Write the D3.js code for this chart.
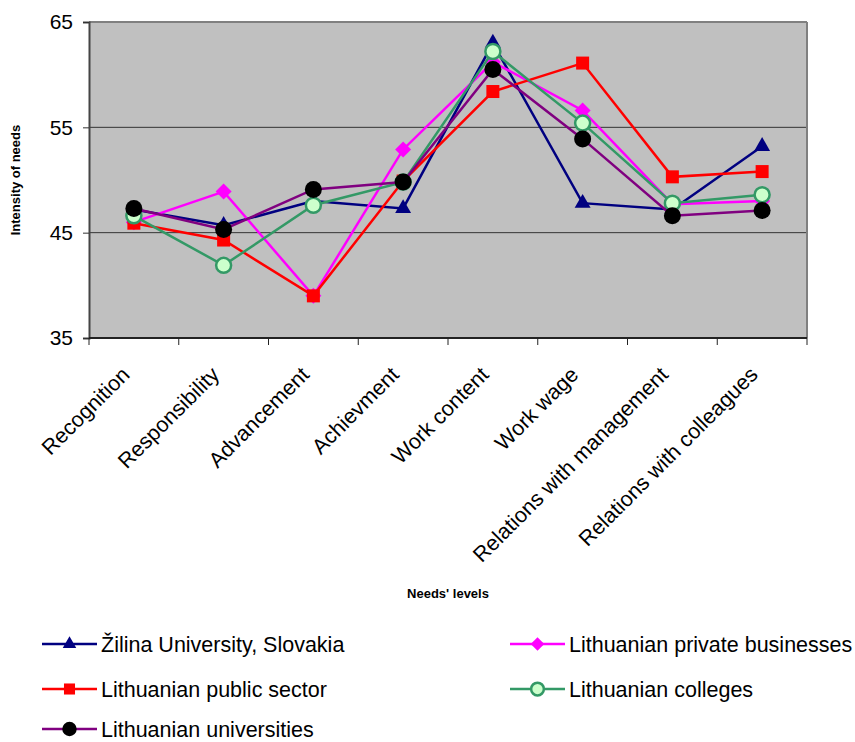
<!DOCTYPE html>
<html><head><meta charset="utf-8">
<script src="https://cdn.jsdelivr.net/npm/d3@7"></script>
<style>body{margin:0;background:#fff}svg{display:block;font-family:"Liberation Sans",Arial,sans-serif}</style>
</head><body><svg id="c" width="855" height="742"></svg>
<script>
const categories = ["Recognition","Responsibility","Advancement","Achievment","Work content","Work wage","Relations with management","Relations with colleagues"];
const zilina   = [47.2, 45.7, 48.0, 47.3, 63.0, 47.8, 47.2, 53.2];
const privateB = [46.0, 48.9, 39.0, 52.9, 61.2, 56.6, 47.7, 48.0];
const publicS  = [45.9, 44.3, 39.0, 49.9, 58.4, 61.1, 50.3, 50.8];
const colleges = [46.6, 41.9, 47.6, 49.8, 62.2, 55.4, 47.8, 48.6];
const univs    = [47.3, 45.3, 49.1, 49.8, 60.5, 53.9, 46.6, 47.1];
const yTicks = [35, 45, 55, 65];

const series = [
  {name:"Žilina University, Slovakia", values:zilina, line:"#000080", marker:"triangle", fill:"#000080", stroke:"none"},
  {name:"Lithuanian private businesses", values:privateB, line:"#ff00ff", marker:"diamond", fill:"#ff00ff", stroke:"none"},
  {name:"Lithuanian public sector", values:publicS, line:"#ff0000", marker:"square", fill:"#ff0000", stroke:"none"},
  {name:"Lithuanian colleges", values:colleges, line:"#339966", marker:"circleO", fill:"#ccffcc", stroke:"#339966"},
  {name:"Lithuanian universities", values:univs, line:"#800080", marker:"circle", fill:"#000000", stroke:"none"}
];

const svg = d3.select("#c");
const L=89, R=807, T=22, B=338;
const x = d3.scaleBand().domain(categories).range([L,R]);
const y = d3.scaleLinear().domain([35,65]).range([B,T]);

svg.append("rect").attr("x",L).attr("y",T).attr("width",R-L).attr("height",B-T).attr("fill","#c0c0c0");
svg.append("g").selectAll("line").data([45,55]).join("line")
  .attr("x1",L).attr("x2",R).attr("y1",d=>y(d)).attr("y2",d=>y(d)).attr("stroke","#333").attr("stroke-width",1);
svg.append("line").attr("x1",L).attr("x2",R).attr("y1",T).attr("y2",T).attr("stroke","#808080").attr("stroke-width",2);
svg.append("line").attr("x1",R).attr("x2",R).attr("y1",T).attr("y2",B).attr("stroke","#808080").attr("stroke-width",2);

const ya = svg.append("g").attr("transform",`translate(${L},0)`)
  .call(d3.axisLeft(y).tickValues(yTicks).tickSize(6).tickPadding(10));
ya.select(".domain").attr("stroke","#444").attr("stroke-width",2);
ya.selectAll(".tick line").attr("stroke","#333");
ya.selectAll("text").attr("font-size",21).attr("fill","#000").attr("font-family","Liberation Sans, Arial, sans-serif");

const xa = svg.append("g").attr("transform",`translate(0,${B})`);
xa.append("line").attr("x1",L).attr("x2",R).attr("stroke","#222").attr("stroke-width",2);
const bounds = categories.map(c=>x(c)).concat([R]);
xa.selectAll("line.tk").data(bounds).join("line").attr("class","tk")
  .attr("x1",d=>d).attr("x2",d=>d).attr("y1",0).attr("y2",7).attr("stroke","#222");
xa.selectAll("text").data(categories).join("text")
  .attr("transform",d=>`translate(${x(d)+x.bandwidth()/2-3},${38}) rotate(-45)`)
  .attr("text-anchor","end").attr("font-size",21.5).text(d=>d);

svg.append("text").attr("transform","translate(20,180) rotate(-90)").attr("text-anchor","middle")
  .attr("font-size",13).attr("font-weight","bold").text("Intensity of needs");
svg.append("text").attr("x",448).attr("y",598).attr("text-anchor","middle")
  .attr("font-size",13).attr("font-weight","bold").text("Needs' levels");

function drawMarker(g, s, cx, cy, scale){
  scale = scale||1;
  if(s.marker==="triangle"){
    g.append("path").attr("d",d3.symbol().type(d3.symbolTriangle).size(110*scale*scale)())
      .attr("transform",`translate(${cx},${cy})`).attr("fill",s.fill);
  } else if(s.marker==="diamond"){
    g.append("path").attr("d",`M0,-8L8,0L0,8L-8,0Z`)
      .attr("transform",`translate(${cx},${cy}) scale(${scale})`).attr("fill",s.fill);
  } else if(s.marker==="square"){
    g.append("rect").attr("x",cx-6.5*scale).attr("y",cy-6.5*scale).attr("width",13*scale).attr("height",13*scale).attr("fill",s.fill);
  } else if(s.marker==="circleO"){
    g.append("circle").attr("cx",cx).attr("cy",cy).attr("r",7.5*scale).attr("fill",s.fill).attr("stroke",s.stroke).attr("stroke-width",2.5);
  } else {
    g.append("circle").attr("cx",cx).attr("cy",cy).attr("r",8.5*scale).attr("fill",s.fill);
  }
}

const line = d3.line().x((d,i)=>x(categories[i])+x.bandwidth()/2).y(d=>y(d));
series.forEach(s=>{
  const g = svg.append("g");
  g.append("path").datum(s.values).attr("d",line).attr("fill","none").attr("stroke",s.line).attr("stroke-width",2.5);
  s.values.forEach((v,i)=>drawMarker(g,s,x(categories[i])+x.bandwidth()/2,y(v)));
});

const legendPos = [
  {s:0, x:42, y:644},
  {s:1, x:510, y:644},
  {s:2, x:42, y:689},
  {s:3, x:510, y:689},
  {s:4, x:42, y:729}
];
legendPos.forEach(p=>{
  const s = series[p.s];
  const g = svg.append("g");
  g.append("line").attr("x1",p.x).attr("x2",p.x+55).attr("y1",p.y).attr("y2",p.y).attr("stroke",s.line).attr("stroke-width",2.5);
  drawMarker(g,s,p.x+27.5,p.y,0.85);
  g.append("text").attr("x",p.x+59).attr("y",p.y+7.5).attr("font-size",21.5).text(s.name);
});
</script></body></html>
